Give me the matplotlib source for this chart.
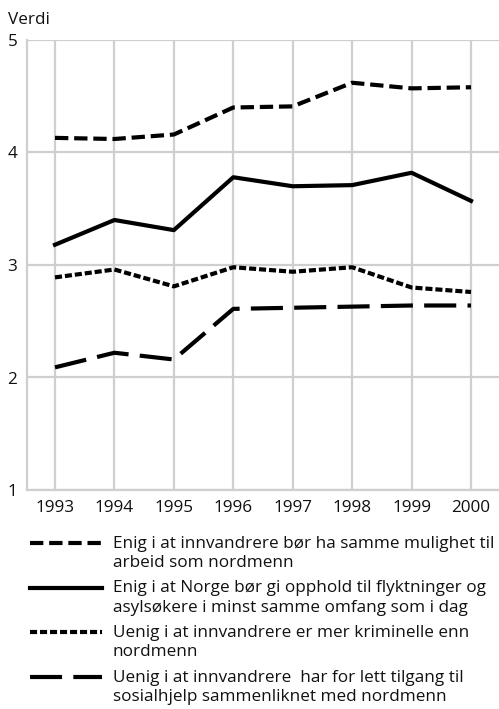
import matplotlib
matplotlib.use("Agg")
import matplotlib.pyplot as plt
from matplotlib.legend_handler import HandlerLine2D

plt.rcParams['font.family'] = ['Open Sans', 'DejaVu Sans']

years = [1993, 1994, 1995, 1996, 1997, 1998, 1999, 2000]
arbeid = [4.13, 4.12, 4.16, 4.40, 4.41, 4.62, 4.57, 4.58]
opphold = [3.18, 3.40, 3.31, 3.78, 3.70, 3.71, 3.82, 3.57]
kriminelle = [2.89, 2.96, 2.81, 2.98, 2.94, 2.98, 2.80, 2.76]
sosialhjelp = [2.09, 2.22, 2.16, 2.61, 2.62, 2.63, 2.64, 2.64]
labels = [
    "Enig i at innvandrere bør ha samme mulighet til\narbeid som nordmenn",
    "Enig i at Norge bør gi opphold til flyktninger og\nasylsøkere i minst samme omfang som i dag",
    "Uenig i at innvandrere er mer kriminelle enn\nnordmenn",
    "Uenig i at innvandrere  har for lett tilgang til\nsosialhjelp sammenliknet med nordmenn",
]
yticks = [1, 2, 3, 4, 5]

FS = 12.3
W, H = 499, 709
fig = plt.figure(figsize=(W / 100, H / 100), dpi=100)
left, top, bottom = 27, 40, 490
step = 59.43
ax = fig.add_axes([left / W, (H - bottom) / H, 8 * step / W, (bottom - top) / H])
ax.set_xlim(years[0] - 0.471, years[-1] + 0.529)
ax.set_ylim(1, 5)

grid_c = '#cfcfcf'
ax.set_xticks(years)
ax.set_yticks(yticks)
ax.grid(True, color=grid_c, linewidth=1.6)
ax.set_axisbelow(True)
for s in ['top', 'right']:
    ax.spines[s].set_visible(False)
for s in ['left', 'bottom']:
    ax.spines[s].set_color(grid_c)
    ax.spines[s].set_linewidth(1.6)
ax.tick_params(length=0, labelsize=FS, colors='#111111')
ax.tick_params(axis='y', pad=7)
ax.tick_params(axis='x', pad=7)

lw = 3.0
l1, = ax.plot(years, arbeid, color='black', lw=lw, dashes=(3.2, 1.4), label=labels[0])
l2, = ax.plot(years, opphold, color='black', lw=lw, label=labels[1])
l3, = ax.plot(years, kriminelle, color='black', lw=lw, dashes=(1.7, 0.7), label=labels[2])
l4, = ax.plot(years, sosialhjelp, color='black', lw=lw, dashes=(7.7, 2.7), label=labels[3])

fig.text(8 / W, 1 - 20 / H, "Verdi", fontsize=FS, va='center', ha='left', color='#111111')


class TopLine(HandlerLine2D):
    shift = 7.4

    def create_artists(self, legend, orig_handle, xdescent, ydescent,
                       width, height, fontsize, trans):
        arts = super().create_artists(legend, orig_handle, xdescent, ydescent,
                                      width, height, fontsize, trans)
        for a in arts:
            a.set_ydata([y + self.shift for y in a.get_ydata()])
        return arts


leg = fig.legend(handles=[l1, l2, l3, l4], loc='upper left',
                 bbox_to_anchor=(30 / W, 1 - 535.5 / H), frameon=False,
                 fontsize=FS, handlelength=72 / (FS * 100 / 72), handletextpad=0.62,
                 borderpad=0, borderaxespad=0, labelspacing=0.55,
                 handler_map={type(l1): TopLine()})
for t in leg.get_texts():
    t.set_color('#111111')
    t.set_linespacing(1.28)

fig.savefig("out.png", dpi=100)
